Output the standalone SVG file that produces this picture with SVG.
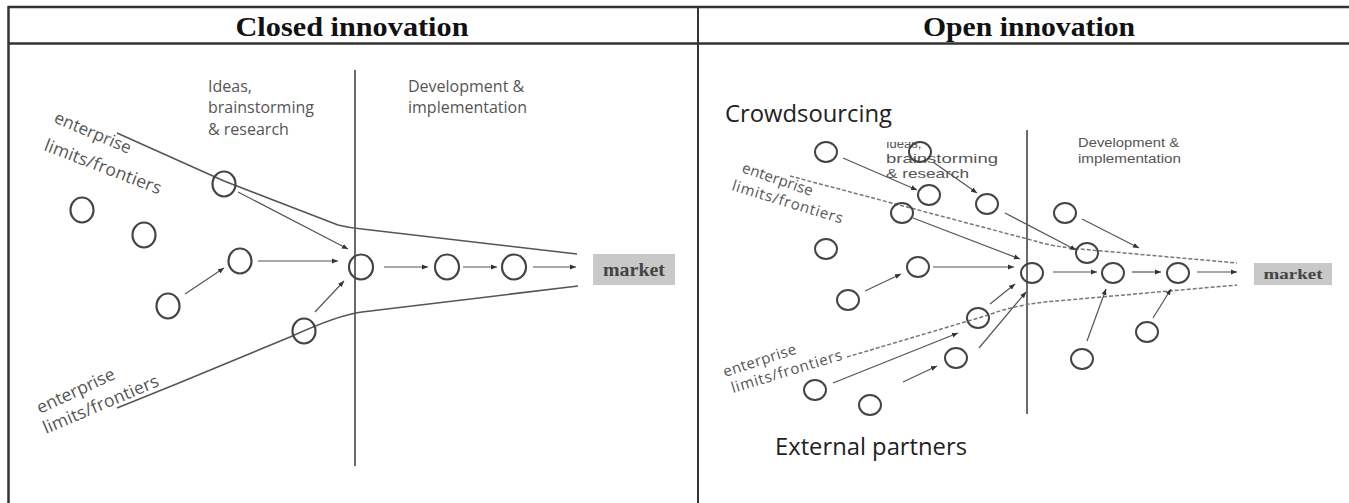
<svg xmlns="http://www.w3.org/2000/svg" width="1349" height="503" viewBox="0 0 1349 503">
<style>
.frame{stroke:#333;fill:none}
.title{font-family:"Liberation Serif","Times New Roman",serif;font-weight:bold;font-size:28px;fill:#111}
.lbl{font-family:"Open Sans","Noto Sans",sans-serif;fill:#555}
.sm{font-family:"Liberation Sans",Arial,sans-serif;fill:#555;font-size:13px}
.big{font-family:"Open Sans","Noto Sans",sans-serif;fill:#222;font-size:23px}
.nodeL{fill:none;stroke:#444;stroke-width:2.2}
.nodeR{fill:none;stroke:#444;stroke-width:2}
.mk{fill:#c8c8c8}
.mkt{font-family:"Liberation Serif","Times New Roman",serif;font-weight:bold;fill:#444}
.arr{fill:none;stroke:#555;stroke-width:1.2;marker-end:url(#ah)}
.bound{fill:none;stroke:#555;stroke-width:1.6}
.dash{fill:none;stroke:#777;stroke-width:1.5;stroke-dasharray:4 2}
.phase{stroke:#444;stroke-width:1.6}
</style>
<defs>
<marker id="ah" markerUnits="userSpaceOnUse" markerWidth="7" markerHeight="6" refX="6" refY="3" orient="auto">
<path d="M0,0.5 L6,3 L0,5.5 z" fill="#333"/>
</marker>
<clipPath id="clipIdeas"><rect x="880" y="142" width="60" height="9"/></clipPath>
</defs>
<rect width="1349" height="503" fill="#fff"/>

<g id="table">
<line class="frame" x1="8" y1="7" x2="1349" y2="7" stroke-width="2.5"/>
<line class="frame" x1="8" y1="43.5" x2="1349" y2="43.5" stroke-width="2.5"/>
<line class="frame" x1="8.5" y1="6" x2="8.5" y2="503" stroke-width="2.5"/>
<line class="frame" x1="698" y1="6" x2="698" y2="503" stroke-width="2"/>
<text class="title" x="352" y="36" text-anchor="middle" textLength="233" lengthAdjust="spacingAndGlyphs">Closed innovation</text>
<text class="title" x="1029" y="36" text-anchor="middle" textLength="212" lengthAdjust="spacingAndGlyphs">Open innovation</text>
</g>

<g id="closed-labels">
<line class="phase" x1="355" y1="70" x2="355" y2="466"/>
<text class="lbl" font-size="16" x="208" y="92">Ideas,</text>
<text class="lbl" font-size="16" x="208" y="113">brainstorming</text>
<text class="lbl" font-size="16" x="208" y="135">&amp; research</text>
<text class="lbl" font-size="16" x="408" y="92">Development &amp;</text>
<text class="lbl" font-size="16" x="408" y="113">implementation</text>
<text class="lbl" font-size="17" transform="translate(53,122) rotate(23)">enterprise</text>
<text class="lbl" font-size="17.5" transform="translate(43,150) rotate(21)" textLength="124">limits/frontiers</text>
<text class="lbl" font-size="17.5" transform="translate(40,414) rotate(-25)">enterprise</text>
<text class="lbl" font-size="17.5" transform="translate(46,434) rotate(-23)" textLength="124">limits/frontiers</text>
</g>

<g id="closed-connectors">
<path class="bound" d="M117,133 L224,181 L338,225 Q350,228 362,229 L577,254"/>
<path class="bound" d="M117,408 L174,385 L290,337 Q338,315 362,312 L578,286"/>
<path class="arr" d="M238,192 L348,249"/>
<path class="arr" d="M185,294 L224,268"/>
<path class="arr" d="M258,261 L338,261"/>
<path class="arr" d="M315,312 L344,281"/>
<path class="arr" d="M384,267 L428,267"/>
<path class="arr" d="M463,267 L497,267"/>
<path class="arr" d="M533,267 L576,267"/>
</g>

<g id="L1"><ellipse class="nodeL" cx="224" cy="184" rx="11.5" ry="12.5"/></g>
<g id="L2"><ellipse class="nodeL" cx="82" cy="210" rx="11.5" ry="12.5"/></g>
<g id="L3"><ellipse class="nodeL" cx="144" cy="235" rx="11.5" ry="12.5"/></g>
<g id="L4"><ellipse class="nodeL" cx="240" cy="261" rx="11.5" ry="12.5"/></g>
<g id="L5"><ellipse class="nodeL" cx="168" cy="306" rx="11.5" ry="12.5"/></g>
<g id="L6"><ellipse class="nodeL" cx="304" cy="331" rx="11.5" ry="12.5"/></g>
<g id="L7"><ellipse class="nodeL" cx="361" cy="267" rx="12" ry="12.5"/></g>
<g id="L8"><ellipse class="nodeL" cx="447" cy="267" rx="12" ry="12.5"/></g>
<g id="L9"><ellipse class="nodeL" cx="514" cy="267" rx="12" ry="12.5"/></g>
<g id="market-closed"><rect class="mk" x="593" y="254" width="82" height="31"/><text class="mkt" font-size="19" x="634" y="276" text-anchor="middle" textLength="62" lengthAdjust="spacingAndGlyphs">market</text></g>

<g id="open-labels">
<line class="phase" x1="1027" y1="130" x2="1027" y2="414"/>
<text class="big" x="725" y="122" textLength="167" lengthAdjust="spacingAndGlyphs">Crowdsourcing</text>
<text class="big" x="775" y="455" textLength="192" lengthAdjust="spacingAndGlyphs">External partners</text>
<text class="sm" x="886" y="148" clip-path="url(#clipIdeas)">Ideas,</text>
<text class="sm" x="886" y="163" textLength="112" lengthAdjust="spacingAndGlyphs">brainstorming</text>
<text class="sm" x="886" y="178" textLength="83" lengthAdjust="spacingAndGlyphs">&amp; research</text>
<text class="sm" x="1078" y="147" textLength="101" lengthAdjust="spacingAndGlyphs">Development &amp;</text>
<text class="sm" x="1078" y="163" textLength="103" lengthAdjust="spacingAndGlyphs">implementation</text>
<text class="lbl" font-size="15" transform="translate(741,172) rotate(19)" textLength="74">enterprise</text>
<text class="lbl" font-size="15" transform="translate(731,190) rotate(17)" textLength="115">limits/frontiers</text>
<text class="lbl" font-size="15" transform="translate(725,377) rotate(-18)" textLength="76">enterprise</text>
<text class="lbl" font-size="15" transform="translate(733,393) rotate(-17)" textLength="115">limits/frontiers</text>
</g>

<g id="open-connectors">
<path class="dash" d="M790,176 L1035,241 Q1055,247 1080,249 L1237,263"/>
<path class="dash" d="M847,357 L985,316 Q1015,305 1045,302 L1237,285"/>
<path class="arr" d="M843,158 L917,190"/>
<path class="arr" d="M933,162 L977,193"/>
<path class="arr" d="M913,218 L1020,259"/>
<path class="arr" d="M1005,213 L1076,250"/>
<path class="arr" d="M1082,219 L1139,248"/>
<path class="arr" d="M933,267 L1014,267"/>
<path class="arr" d="M865,291 L901,274"/>
<path class="arr" d="M990,304 L1015,284"/>
<path class="arr" d="M979,348 L1026,292"/>
<path class="arr" d="M833,383 L958,333"/>
<path class="arr" d="M903,382 L937,366"/>
<path class="arr" d="M1053,272 L1097,272"/>
<path class="arr" d="M1132,272 L1161,272"/>
<path class="arr" d="M1197,272 L1237,272"/>
<path class="arr" d="M1087,341 L1106,289"/>
<path class="arr" d="M1153,318 L1171,289"/>
</g>

<g id="R1"><ellipse class="nodeR" cx="826" cy="152" rx="11" ry="10"/></g>
<g id="R2"><ellipse class="nodeR" cx="920" cy="152" rx="11" ry="10"/></g>
<g id="R3"><ellipse class="nodeR" cx="929" cy="195" rx="11" ry="10"/></g>
<g id="R4"><ellipse class="nodeR" cx="987" cy="204" rx="11" ry="10"/></g>
<g id="R5"><ellipse class="nodeR" cx="902" cy="213" rx="11" ry="10"/></g>
<g id="R6"><ellipse class="nodeR" cx="826" cy="249" rx="11" ry="10"/></g>
<g id="R7"><ellipse class="nodeR" cx="918" cy="267" rx="11" ry="10"/></g>
<g id="R8"><ellipse class="nodeR" cx="848" cy="300" rx="11" ry="10"/></g>
<g id="R9"><ellipse class="nodeR" cx="1032" cy="273" rx="11" ry="10"/></g>
<g id="R10"><ellipse class="nodeR" cx="978" cy="318" rx="11" ry="10"/></g>
<g id="R11"><ellipse class="nodeR" cx="956" cy="358" rx="11" ry="10"/></g>
<g id="R12"><ellipse class="nodeR" cx="815" cy="390" rx="11" ry="10"/></g>
<g id="R13"><ellipse class="nodeR" cx="870" cy="405" rx="11" ry="10"/></g>
<g id="R14"><ellipse class="nodeR" cx="1065" cy="213" rx="11" ry="10"/></g>
<g id="R15"><ellipse class="nodeR" cx="1087" cy="253" rx="11" ry="10"/></g>
<g id="R16"><ellipse class="nodeR" cx="1113" cy="273" rx="11" ry="10"/></g>
<g id="R17"><ellipse class="nodeR" cx="1178" cy="273" rx="11" ry="10"/></g>
<g id="R18"><ellipse class="nodeR" cx="1147" cy="332" rx="11" ry="10"/></g>
<g id="R19"><ellipse class="nodeR" cx="1082" cy="359" rx="11" ry="10"/></g>
<g id="market-open"><rect class="mk" x="1254" y="263" width="78" height="22"/><text class="mkt" font-size="15" x="1293" y="279" text-anchor="middle" textLength="59" lengthAdjust="spacingAndGlyphs">market</text></g>
</svg>
